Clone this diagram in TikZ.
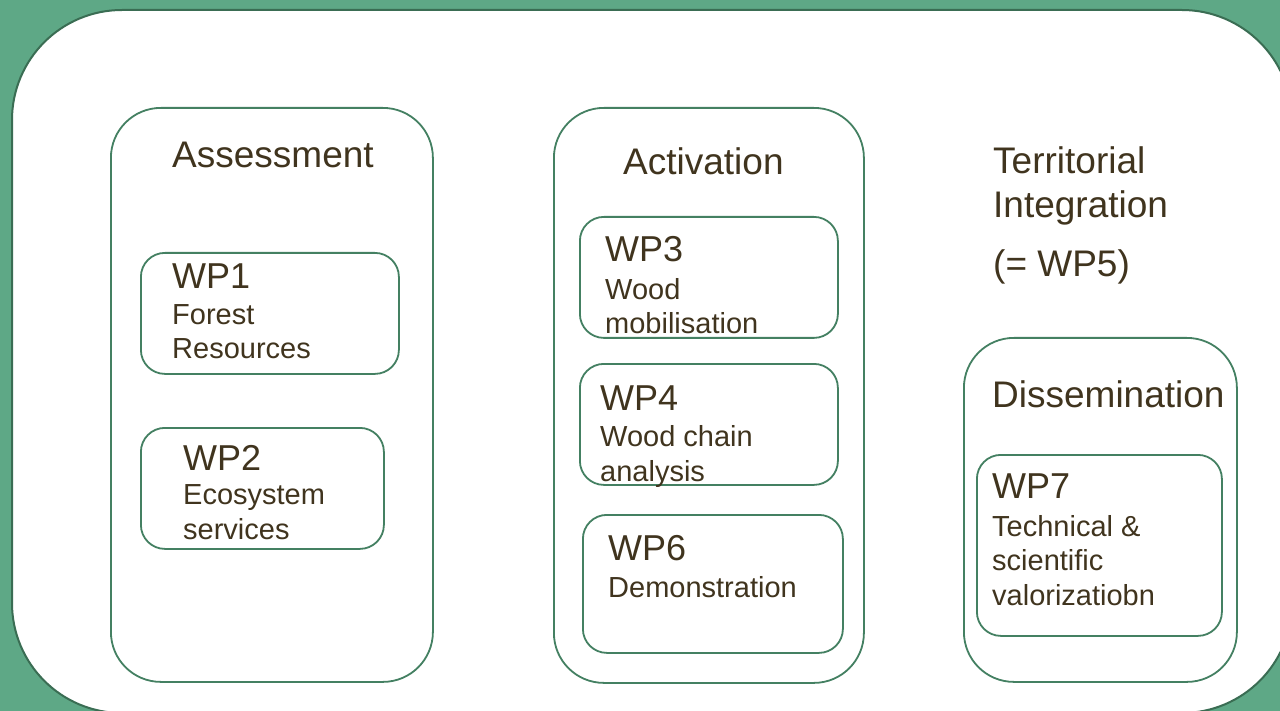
\documentclass[tikz,border=0pt]{standalone}
\usepackage{fontspec}
\setmainfont{Liberation Sans}
\definecolor{bggreen}{RGB}{94,168,134}
\definecolor{linegreen}{RGB}{68,128,98}
\definecolor{txtbrown}{RGB}{64,52,30}

\begin{document}
\begin{tikzpicture}[x=1pt,y=-1pt]
        \tikzstyle{outer} = [rounded corners=110pt, fill=white, draw=linegreen!85!black, line width=2pt]
        \tikzstyle{group} = [rectangle, rounded corners=50pt, draw=linegreen, line width=1.8pt, anchor=north west, inner sep=0pt]
        \tikzstyle{wpbox} = [rectangle, rounded corners=24pt, draw=linegreen, line width=1.8pt, anchor=north west, inner sep=0pt]
        \tikzstyle{title} = [anchor=base west, inner sep=0pt, text=txtbrown, align=left, font=\fontsize{37}{44}\selectfont]
        \tikzstyle{wplabel} = [anchor=base west, inner sep=0pt, text=txtbrown, font=\fontsize{36}{40}\selectfont]
        \tikzstyle{wptext} = [anchor=base west, inner sep=0pt, text=txtbrown, align=left, font=\fontsize{29}{34.5}\selectfont]

                \clip (0,0) rectangle (1280,711);
                \fill[bggreen] (0,0) rectangle (1280,711);
                \draw[outer] (12,10) rectangle (1292,713);

                \node (assess) [group, minimum width=322pt, minimum height=574pt] at (110,107) {};
                \node (activ) [group, minimum width=310pt, minimum height=575pt] at (553,107) {};
                \node (dissem) [group, minimum width=273pt, minimum height=344pt] at (963,337) {};

                \node (wp1) [wpbox, minimum width=258pt, minimum height=121pt] at (140,252) {};
                \node (wp2) [wpbox, minimum width=243pt, minimum height=121pt] at (140,427) {};
                \node (wp3) [wpbox, minimum width=258pt, minimum height=121pt] at (579,216) {};
                \node (wp4) [wpbox, minimum width=258pt, minimum height=121pt] at (579,363) {};
                \node (wp6) [wpbox, minimum width=260pt, minimum height=138pt] at (582,514) {};
                \node (wp7) [wpbox, minimum width=245pt, minimum height=181pt] at (976,454) {};

                \node (assesst) [title] at (172,168) {Assessment};
                \node (activt) [title] at (623,175) {Activation};
                \node (terrt) [title] at (993,218) {Territorial\\Integration};
                \node (wp5t) [title] at (993,277) {(= WP5)};
                \node (dissemt) [title] at (992,407) {Dissemination};

                \node (wp1l) [wplabel] at (172,289) {WP1};
                \node (wp1t) [wptext] at (172,359) {Forest\\Resources};
                \node (wp2l) [wplabel] at (183,470) {WP2};
                \node (wp2t) [wptext] at (183,539) {Ecosystem\\services};
                \node (wp3l) [wplabel] at (605,262) {WP3};
                \node (wp3t) [wptext] at (605,334) {Wood\\mobilisation};
                \node (wp4l) [wplabel] at (600,410) {WP4};
                \node (wp4t) [wptext] at (600,481) {Wood chain\\analysis};
                \node (wp6l) [wplabel] at (608,560) {WP6};
                \node (wp6t) [wptext] at (608,597) {Demonstration};
                \node (wp7l) [wplabel] at (992,498) {WP7};
                \node (wp7t) [wptext] at (992,605) {Technical \&\\scientific\\valorizatiobn};

    \end{tikzpicture}
\end{document}
